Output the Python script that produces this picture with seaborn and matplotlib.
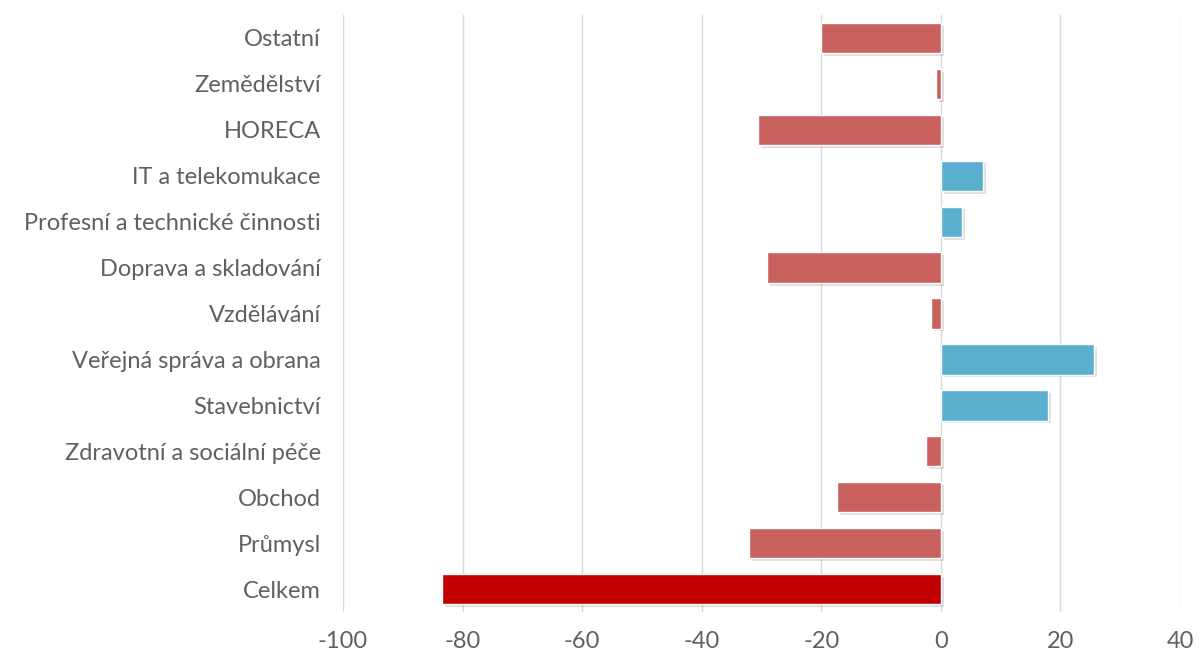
import matplotlib
matplotlib.use("Agg")
import matplotlib.pyplot as plt
import matplotlib.patheffects as pe
import seaborn as sns
import pandas as pd

categories = ["Ostatní", "Zemědělství", "HORECA", "IT a telekomukace",
              "Profesní a technické činnosti", "Doprava a skladování", "Vzdělávání",
              "Veřejná správa a obrana", "Stavebnictví", "Zdravotní a sociální péče",
              "Obchod", "Průmysl", "Celkem"]
values = [-20.0, -0.8, -30.6, 7.1, 3.6, -29.1, -1.6, 25.6, 18.0, -2.5, -17.4, -32.1, -83.4]
xticks = [-100, -80, -60, -40, -20, 0, 20, 40]

df = pd.DataFrame({"kategorie": categories, "hodnota": values})

def colour(cat, v):
    if cat == "Celkem":
        return "#C00000"
    return "#C9615F" if v < 0 else "#5BB0D0"

palette = {c: colour(c, v) for c, v in zip(categories, values)}

sns.set_theme(style="white")
plt.rcParams['font.family'] = ['Lato', 'DejaVu Sans']

fig = plt.figure(figsize=(12.01, 6.58), dpi=100)
ax = fig.add_axes([0.2856, 0.0699, 0.6969, 0.9073])

sns.barplot(data=df, x="hodnota", y="kategorie", hue="kategorie", palette=palette,
            order=categories, hue_order=categories, legend=False, width=0.66,
            saturation=1, ax=ax, zorder=3)

for p in ax.patches:
    p.set_path_effects([pe.SimplePatchShadow(offset=(2, -2), shadow_rgbFace="#000000", alpha=0.12),
                        pe.Normal()])

ax.set_xlim(-100, 40)
ax.set_ylim(12.5, -0.5)
ax.set_xticks(xticks)
ax.set_xticklabels([str(t) for t in xticks])
ax.xaxis.grid(True, color="#D9D9D9", linewidth=1, zorder=0)
ax.set_axisbelow(True)
for s in ax.spines.values():
    s.set_visible(False)
ax.set_xlabel("")
ax.set_ylabel("")
ax.tick_params(axis="both", length=0, labelsize=17, labelcolor="#606060")
ax.tick_params(axis="y", pad=16)
ax.tick_params(axis="x", pad=14)

fig.savefig("out.png", dpi=100)
